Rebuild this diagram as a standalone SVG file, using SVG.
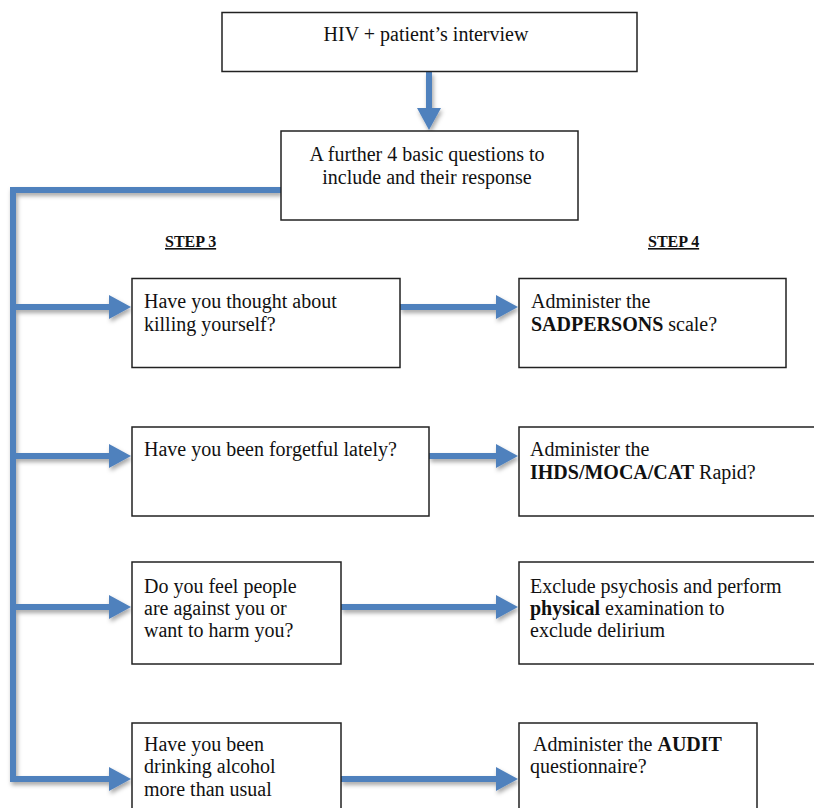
<svg xmlns="http://www.w3.org/2000/svg" width="814" height="808" viewBox="0 0 814 808">
<defs>
<filter id="sh" x="-10%" y="-10%" width="130%" height="140%">
<feDropShadow dx="1.5" dy="3" stdDeviation="2" flood-color="#000" flood-opacity="0.35"/>
</filter>
<marker id="ah" viewBox="0 0 22 24" refX="12" refY="12" markerWidth="22" markerHeight="24" markerUnits="userSpaceOnUse" orient="auto">
<path d="M0,0 L22,12 L0,24 Z" fill="#4F81BD"/>
</marker>
<style>
.box{fill:#fff;stroke:#222;stroke-width:1.5}
.t{font-family:"Liberation Serif",serif;font-size:20px;fill:#111}
.c{text-anchor:middle}
.b{font-weight:bold}
.step{font-family:"Liberation Serif",serif;font-size:16px;font-weight:bold;fill:#111;text-decoration:underline}
.conn{fill:none;stroke:#4F81BD;stroke-width:6;stroke-linejoin:miter}
</style>
</defs>
<g id="connectors" filter="url(#sh)">
<path class="conn" d="M429,72 V120" marker-end="url(#ah)"/>
<path class="conn" d="M281,190 H13 V779 H121" marker-end="url(#ah)"/>
<path class="conn" d="M13,307 H121" marker-end="url(#ah)"/>
<path class="conn" d="M13,456 H121" marker-end="url(#ah)"/>
<path class="conn" d="M13,607 H121" marker-end="url(#ah)"/>
<path class="conn" d="M400,307 H508" marker-end="url(#ah)"/>
<path class="conn" d="M429,456 H508" marker-end="url(#ah)"/>
<path class="conn" d="M341,607 H508" marker-end="url(#ah)"/>
<path class="conn" d="M341,779 H508" marker-end="url(#ah)"/>
</g>
<g id="n-interview">
<rect class="box" x="222" y="12.5" width="415" height="59"/>
<text class="t c" x="426" y="41">HIV + patient’s interview</text>
</g>
<g id="n-questions">
<rect class="box" x="281" y="131" width="297" height="89"/>
<text class="t c" x="427" y="161">A further 4 basic questions to</text>
<text class="t c" x="427" y="184">include and their response</text>
</g>
<g id="step3"><text class="step" x="165" y="247">STEP 3</text></g>
<g id="step4"><text class="step" x="648" y="247">STEP 4</text></g>
<g id="n-q1">
<rect class="box" x="132" y="278.5" width="268" height="89"/>
<text class="t" x="144" y="308">Have you thought about</text>
<text class="t" x="144" y="331">killing yourself?</text>
</g>
<g id="n-a1">
<rect class="box" x="519" y="278.5" width="267" height="89"/>
<text class="t" x="531" y="308">Administer the</text>
<text class="t" x="531" y="331"><tspan class="b">SADPERSONS</tspan> scale?</text>
</g>
<g id="n-q2">
<rect class="box" x="132" y="427" width="297" height="89"/>
<text class="t" x="144" y="456">Have you been forgetful lately?</text>
</g>
<g id="n-a2">
<rect class="box" x="519" y="427" width="300" height="89"/>
<text class="t" x="530" y="456">Administer the</text>
<text class="t" x="530" y="479"><tspan class="b">IHDS/MOCA/CAT</tspan> Rapid?</text>
</g>
<g id="n-q3">
<rect class="box" x="132" y="562" width="209" height="102"/>
<text class="t" x="144" y="593">Do you feel people</text>
<text class="t" x="144" y="615">are against you or</text>
<text class="t" x="144" y="637">want to harm you?</text>
</g>
<g id="n-a3">
<rect class="box" x="519" y="562" width="300" height="102"/>
<text class="t" x="530" y="593">Exclude psychosis and perform</text>
<text class="t" x="530" y="615"><tspan class="b">physical</tspan> examination to</text>
<text class="t" x="530" y="637">exclude delirium</text>
</g>
<g id="n-q4">
<rect class="box" x="132" y="723" width="209" height="100"/>
<text class="t" x="144" y="751">Have you been</text>
<text class="t" x="144" y="773">drinking alcohol</text>
<text class="t" x="144" y="796">more than usual</text>
</g>
<g id="n-a4">
<rect class="box" x="519" y="723" width="238" height="100"/>
<text class="t" x="533" y="751">Administer the <tspan class="b">AUDIT</tspan></text>
<text class="t" x="530" y="773">questionnaire?</text>
</g>
</svg>
